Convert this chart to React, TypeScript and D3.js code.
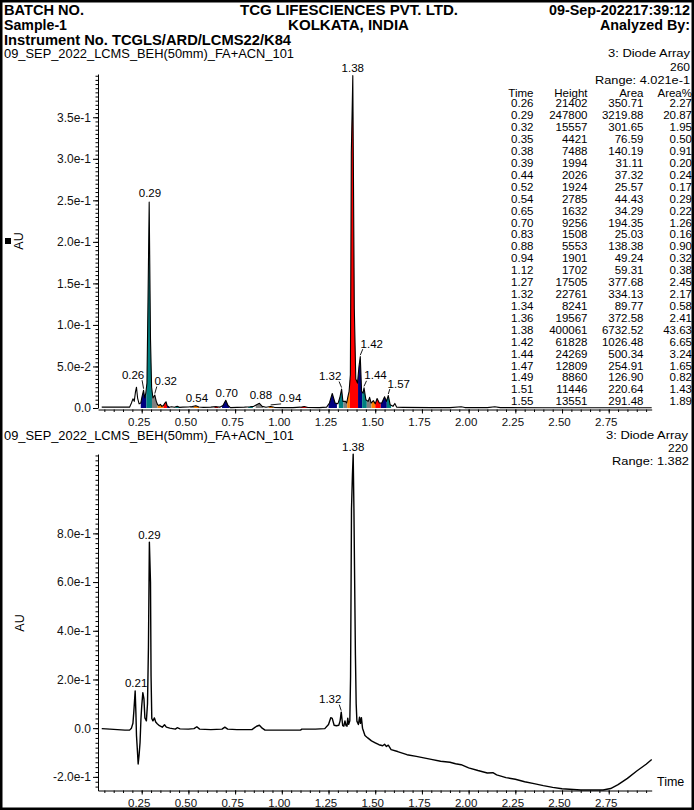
import React, { useEffect, useRef } from "react";
import { select, scaleLinear, axisLeft, axisBottom, line, area, range } from "d3";

// peak table, 3: Diode Array 260
const peakTime = [0.26, 0.29, 0.32, 0.35, 0.38, 0.39, 0.44, 0.52, 0.54, 0.65, 0.70, 0.83, 0.88, 0.94, 1.12, 1.27, 1.32, 1.34, 1.36, 1.38, 1.42, 1.44, 1.47, 1.49, 1.51, 1.55];
const peakHeight = [21402, 247800, 15557, 4421, 7488, 1994, 2026, 1924, 2785, 1632, 9256, 1508, 5553, 1901, 1702, 17505, 22761, 8241, 19567, 400061, 61828, 24269, 12809, 8860, 11446, 13551];
const peakArea = [350.71, 3219.88, 301.65, 76.59, 140.19, 31.11, 37.32, 25.57, 44.43, 34.29, 194.35, 25.03, 138.38, 49.24, 59.31, 377.68, 334.13, 89.77, 372.58, 6732.52, 1026.48, 500.34, 254.91, 126.90, 220.64, 291.48];
const peakAreaPct = [2.27, 20.87, 1.95, 0.50, 0.91, 0.20, 0.24, 0.17, 0.29, 0.22, 1.26, 0.16, 0.90, 0.32, 0.38, 2.45, 2.17, 0.58, 2.41, 43.63, 6.65, 3.24, 1.65, 0.82, 1.43, 1.89];

// integration windows (min), last one is the 1.57 peak
const fillStart = [0.245, 0.275, 0.305, 0.335, 0.366, 0.386, 0.43, 0.51, 0.53, 0.64, 0.68, 0.82, 0.86, 0.93, 1.10, 1.25, 1.305, 1.33, 1.35, 1.364, 1.408, 1.43, 1.455, 1.48, 1.50, 1.53, 1.562];
const fillEnd = [0.275, 0.305, 0.335, 0.366, 0.386, 0.40, 0.455, 0.53, 0.556, 0.66, 0.72, 0.845, 0.90, 0.955, 1.14, 1.295, 1.33, 1.35, 1.364, 1.408, 1.43, 1.455, 1.48, 1.50, 1.53, 1.562, 1.585];

// 260 nm trace (AU)
const topTime = [
  0.036, 0.100, 0.150, 0.185, 0.195, 0.203, 0.210, 0.217, 0.222, 0.228,
  0.236, 0.245, 0.252, 0.260, 0.266, 0.272, 0.278, 0.283, 0.290, 0.297,
  0.303, 0.310, 0.320, 0.328, 0.335, 0.342, 0.350, 0.358, 0.366, 0.374,
  0.380, 0.386, 0.390, 0.397, 0.410, 0.425, 0.440, 0.452, 0.470, 0.500,
  0.520, 0.540, 0.556, 0.580, 0.620, 0.650, 0.668, 0.685, 0.700, 0.712,
  0.725, 0.760, 0.800, 0.830, 0.850, 0.870, 0.880, 0.895, 0.915, 0.940,
  0.960, 1.000, 1.060, 1.100, 1.120, 1.140, 1.200, 1.240, 1.255, 1.270,
  1.285, 1.300, 1.310, 1.320, 1.327, 1.340, 1.347, 1.355, 1.360, 1.367,
  1.372, 1.380, 1.388, 1.396, 1.405, 1.413, 1.420, 1.427, 1.435, 1.440,
  1.450, 1.462, 1.470, 1.478, 1.490, 1.500, 1.510, 1.522, 1.535, 1.550,
  1.560, 1.570, 1.580, 1.595, 1.605, 1.615, 1.650, 1.800, 1.900, 1.960,
  1.980, 2.100, 2.140, 2.170, 2.400, 2.980
];
const topAbs = [
  0.001, 0.001, 0.001, 0.001, 0.006, 0.011, 0.008, 0.020, 0.025, 0.012,
  0.005, 0.006, 0.014, 0.0214, 0.012, 0.018, 0.030, 0.117, 0.2478, 0.083,
  0.025, 0.012, 0.0156, 0.008, 0.004, 0.003, 0.0044, 0.002, 0.003, 0.006,
  0.0075, 0.003, 0.002, 0.001, 0.0015, 0.0008, 0.0020, 0.0008, 0.0010, 0.0012,
  0.0019, 0.0028, 0.0012, 0.0008, 0.0010, 0.0016, 0.0010, 0.0030, 0.0093, 0.0030,
  0.0005, 0.0008, 0.0010, 0.0015, 0.0020, 0.0045, 0.0056, 0.0020, 0.0010, 0.0019,
  0.0008, 0.0005, 0.0005, 0.0010, 0.0017, 0.0006, 0.0005, 0.0010, 0.0060, 0.0175,
  0.0060, 0.0050, 0.0120, 0.0228, 0.0080, 0.0082, 0.0060, 0.0150, 0.0196, 0.0400,
  0.3070, 0.4001, 0.1200, 0.0350, 0.0300, 0.0500, 0.0618, 0.0200, 0.0180, 0.0243,
  0.0100, 0.0080, 0.0128, 0.0060, 0.0089, 0.0050, 0.0114, 0.0060, 0.0060, 0.0136,
  0.0080, 0.0150, 0.0040, 0.0020, 0.0055, 0.0010, 0.0008, 0.0005, 0.0005, 0.0015,
  0.0005, 0.0005, 0.0015, 0.0005, 0.0003, 0.0003
];

// 220 nm trace (AU)
const botTime = [
  0.036, 0.080, 0.120, 0.160, 0.185, 0.195, 0.203, 0.208, 0.215, 0.219,
  0.222, 0.226, 0.231, 0.236, 0.241, 0.246, 0.250, 0.256, 0.262, 0.267,
  0.275, 0.281, 0.286, 0.291, 0.297, 0.300, 0.304, 0.310, 0.318, 0.325,
  0.333, 0.345, 0.360, 0.372, 0.382, 0.400, 0.430, 0.440, 0.455, 0.500,
  0.530, 0.545, 0.560, 0.620, 0.680, 0.695, 0.710, 0.760, 0.840, 0.865,
  0.880, 0.895, 0.910, 1.000, 1.100, 1.107, 1.180, 1.230, 1.250, 1.262,
  1.270, 1.280, 1.292, 1.305, 1.312, 1.318, 1.326, 1.332, 1.338, 1.344,
  1.349, 1.353, 1.358, 1.364, 1.368, 1.373, 1.378, 1.382, 1.386, 1.389,
  1.394, 1.398, 1.402, 1.410, 1.416, 1.421, 1.426, 1.432, 1.445, 1.460,
  1.480, 1.500, 1.520, 1.540, 1.550, 1.560, 1.570, 1.585, 1.620, 1.670,
  1.720, 1.760, 1.800, 1.850, 1.900, 1.930, 1.960, 2.000, 2.050, 2.100,
  2.130, 2.150, 2.200, 2.250, 2.300, 2.350, 2.400, 2.450, 2.500, 2.560,
  2.600, 2.720, 2.760, 2.800, 2.850, 2.900, 2.950, 2.980
];
const botAbs = [
  -0.002, -0.004, -0.006, -0.008, -0.008, 0.000, 0.020, 0.070, 0.153, 0.060,
  -0.030, -0.080, -0.147, -0.110, -0.060, 0.040, 0.090, 0.146, 0.120, 0.042,
  0.030, 0.100, 0.330, 0.764, 0.600, 0.214, 0.040, 0.030, 0.042, 0.025,
  0.018, 0.010, 0.004, 0.014, 0.004, 0.000, -0.004, 0.002, -0.003, -0.004,
  -0.002, 0.006, -0.004, -0.006, -0.004, 0.004, -0.004, -0.006, -0.006, 0.008,
  0.012, 0.000, -0.008, -0.008, -0.008, -0.004, -0.004, -0.002, 0.015, 0.043,
  0.040, 0.012, 0.010, 0.012, 0.030, 0.066, 0.010, 0.008, 0.030, 0.010,
  0.008, 0.041, 0.016, 0.030, 0.210, 0.900, 1.040, 1.125, 0.900, 0.668,
  0.300, 0.100, 0.029, 0.015, 0.045, 0.020, 0.043, 0.000, -0.030, -0.040,
  -0.052, -0.060, -0.068, -0.072, -0.066, -0.075, -0.070, -0.088, -0.096, -0.109,
  -0.116, -0.122, -0.128, -0.136, -0.140, -0.146, -0.150, -0.163, -0.174, -0.184,
  -0.183, -0.192, -0.203, -0.210, -0.220, -0.228, -0.236, -0.243, -0.249, -0.252,
  -0.254, -0.254, -0.248, -0.232, -0.206, -0.176, -0.148, -0.129
];

const xTicks = [0.25, 0.5, 0.75, 1.0, 1.25, 1.5, 1.75, 2.0, 2.25, 2.5, 2.75];
const topYTicks = [0, 0.05, 0.1, 0.15, 0.2, 0.25, 0.3, 0.35];
const botYTicks = [-0.2, 0, 0.2, 0.4, 0.6, 0.8];

const topLabels = ["0.26", "0.29", "0.32", "0.54", "0.70", "0.88", "0.94", "1.32", "1.38", "1.42", "1.44", "1.57"];
const botLabels = ["0.21", "0.29", "1.32", "1.38"];

const W = 694;
const H = 810;
const FONT = "'Liberation Sans', Arial, Helvetica, sans-serif";
const palette = ["#000080", "#008080", "#808080", "#ff8000", "#ff0000"];

// label offset from apex: dx, dy (baseline), leader line
const topLabelPos: Record<string, [number, number, boolean]> = {
  "0.26": [-10.5, -11.5, true],
  "0.29": [0.8, -5.5, false],
  "0.32": [11, -10, true],
  "0.54": [1, -4, false],
  "0.70": [1, -3.5, false],
  "0.88": [1.5, -4.5, false],
  "0.94": [19.5, -4, true],
  "1.32": [-11.5, -9, true],
  "1.38": [0, -4, false],
  "1.42": [11.5, -9, true],
  "1.44": [11.5, -8.5, true],
  "1.57": [10.5, -8, true]
};
const botLabelPos: Record<string, [number, number, boolean]> = {
  "0.21": [1, -4, false],
  "0.29": [0, -3.5, false],
  "1.32": [-11, -9, true],
  "1.38": [0, -3, false]
};

const sciLabel = (v: number) => {
  if (Math.abs(v) < 1e-9) return "0.0";
  const e = Math.floor(Math.log10(Math.abs(v)) + 1e-9);
  return `${(v / Math.pow(10, e)).toFixed(1)}e${e}`;
};

const App = () => {
  const ref = useRef<SVGSVGElement>(null);

  useEffect(() => {
    const svg = select(ref.current);
    svg.selectAll("*").remove();
    svg.append("rect").attr("width", W).attr("height", H).attr("fill", "#fff");

    const x = scaleLinear().domain([0.016, 2.98]).range([98, 651.7]);
    const yTop = scaleLinear().domain([0, 0.4021]).range([408, 74]);
    const yBot = scaleLinear().domain([-0.256, 1.126]).range([790.5, 454]);

    const text = (s: string, tx: number, ty: number, size: number, anchor = "start", bold = false, len?: number) => {
      const t = svg.append("text")
        .attr("x", tx).attr("y", ty)
        .attr("font-family", FONT).attr("font-size", size)
        .attr("font-weight", bold ? "bold" : "normal")
        .attr("text-anchor", anchor).attr("fill", "#000")
        .text(s);
      if (len) t.attr("textLength", len).attr("lengthAdjust", "spacingAndGlyphs");
      return t;
    };

    // header
    text("BATCH NO.", 4, 15, 14.5, "start", true, 80);
    text("TCG LIFESCIENCES PVT. LTD.", 349, 15, 14.5, "middle", true, 218);
    text("09-Sep-202217:39:12", 690, 15, 14.5, "end", true, 141);
    text("Sample-1", 4, 30, 14.5, "start", true, 63);
    text("KOLKATA, INDIA", 348.5, 30, 14.5, "middle", true, 121);
    text("Analyzed By:", 690, 30, 14.5, "end", true, 90);
    text("Instrument No. TCGLS/ARD/LCMS22/K84", 4, 45, 14.5, "start", true, 287);

    const panel = (
      time: number[], abs: number[], y: any, yTicks: number[], minorLo: number, minorHi: number,
      minorStep: number, xAxisY: number, labels: string[], labelPos: Record<string, [number, number, boolean]>,
      filled: boolean, lineW: number
    ) => {
      const idx = range(time.length);
      if (filled) {
        const a = area<number>().x(i => x(time[i])).y0(y(0)).y1(i => y(abs[i]));
        const defs = svg.append("defs");
        fillStart.forEach((s, i) => {
          defs.append("clipPath").attr("id", `pk${i}`)
            .append("rect")
            .attr("x", x(s)).attr("y", 60)
            .attr("width", x(fillEnd[i]) - x(s)).attr("height", 360);
          svg.append("path").attr("d", a(idx)).attr("fill", palette[i % palette.length])
            .attr("clip-path", `url(#pk${i})`);
        });
      }
      const ln = line<number>().x(i => x(time[i])).y(i => y(abs[i]));
      svg.append("path").attr("d", ln(idx)).attr("fill", "none").attr("stroke", "#000")
        .attr("stroke-width", lineW).attr("stroke-linejoin", "round");

      // y axis
      const gm = svg.append("g").attr("transform", "translate(98,0)")
        .call(axisLeft(y).tickValues(range(minorLo, minorHi, minorStep)).tickSize(2.5).tickSizeOuter(0).tickFormat(() => ""));
      gm.select(".domain").remove();
      const gy = svg.append("g").attr("transform", "translate(98,0)")
        .call(axisLeft(y).tickValues(yTicks).tickSize(5).tickSizeOuter(0).tickPadding(2).tickFormat(sciLabel as any));
      gy.attr("font-family", FONT).attr("font-size", 12);
      gy.selectAll("text").attr("fill", "#111");

      // x axis
      const gxm = svg.append("g").attr("transform", `translate(0,${xAxisY})`)
        .call(axisBottom(x).tickValues(range(0.05, 2.98, 0.05)).tickSize(2.5).tickSizeOuter(0).tickFormat(() => ""));
      gxm.select(".domain").remove();
      const gx = svg.append("g").attr("transform", `translate(0,${xAxisY})`)
        .call(axisBottom(x).tickValues(xTicks).tickSize(4).tickSizeOuter(0).tickPadding(4).tickFormat((d: any) => d.toFixed(2)));
      gx.attr("font-family", FONT).attr("font-size", 11.5);
      gx.selectAll("text").attr("dx", -3).attr("fill", "#111");

      // peak labels
      labels.forEach(lab => {
        const t = +lab;
        let best = -1;
        time.forEach((tt, i) => {
          if (Math.abs(tt - t) <= 0.012 && (best < 0 || abs[i] > abs[best])) best = i;
        });
        const ax = x(time[best]);
        const ay = y(abs[best]);
        const [dx, dy, leader] = labelPos[lab];
        const tx = ax + dx;
        const ty = ay + dy;
        text(lab, tx, ty, 11.5, "middle");
        if (leader) {
          const cx = dx < 0 ? tx + 9 : tx - 9;
          svg.append("line")
            .attr("x1", cx).attr("y1", ty + 1.5)
            .attr("x2", ax).attr("y2", ay - 1.5)
            .attr("stroke", "#000").attr("stroke-width", 0.9);
        }
      });
    };

    // top panel
    text("09_SEP_2022_LCMS_BEH(50mm)_FA+ACN_101", 4, 57.5, 12.5, "start", false, 290);
    text("3: Diode Array", 690, 57, 11.5, "end", false, 82);
    text("260", 690, 70.5, 11.5, "end", false, 20);
    text("Range: 4.021e-1", 690, 84, 11.5, "end", false, 95);
    panel(topTime, topAbs, yTop, topYTicks, 0, 0.4021, 0.005, 409.5, topLabels, topLabelPos, true, 1.1);

    // peak table
    const cols = [533.5, 587.5, 643.5, 692];
    ["Time", "Height", "Area", "Area%"].forEach((h, j) => text(h, cols[j], 96.5, 11.5, "end"));
    peakTime.forEach((t, i) => {
      const yy = 107.3 + i * 11.92;
      text(t.toFixed(2), cols[0], yy, 11.5, "end");
      text(String(peakHeight[i]), cols[1], yy, 11.5, "end");
      text(peakArea[i].toFixed(2), cols[2], yy, 11.5, "end");
      text(peakAreaPct[i].toFixed(2), cols[3], yy, 11.5, "end");
    });

    svg.append("rect").attr("x", 5).attr("y", 238).attr("width", 6).attr("height", 6).attr("fill", "#000");
    text("AU", 23, 241, 12.5, "middle").attr("transform", "rotate(-90,23,241)");

    // bottom panel
    text("09_SEP_2022_LCMS_BEH(50mm)_FA+ACN_101", 4, 440, 12.5, "start", false, 290);
    text("3: Diode Array", 688, 439, 11.5, "end", false, 82);
    text("220", 688, 452, 11.5, "end", false, 20);
    text("Range: 1.382", 689, 465, 11.5, "end", false, 77);
    panel(botTime, botAbs, yBot, botYTicks, -0.24, 1.126, 0.02, 790.5, botLabels, botLabelPos, false, 1.4);
    text("AU", 24, 623, 12.5, "middle").attr("transform", "rotate(-90,24,623)");
    text("Time", 657, 786, 12.5, "start");

    // page frame
    svg.append("rect").attr("x", 1.25).attr("y", 1.25).attr("width", W - 2.5).attr("height", H - 2.5)
      .attr("fill", "none").attr("stroke", "#000").attr("stroke-width", 2.5);
  }, []);

  return <svg ref={ref} width={W} height={H} style={{ position: "absolute", left: 0, top: 0 }} />;
};

export default App;
